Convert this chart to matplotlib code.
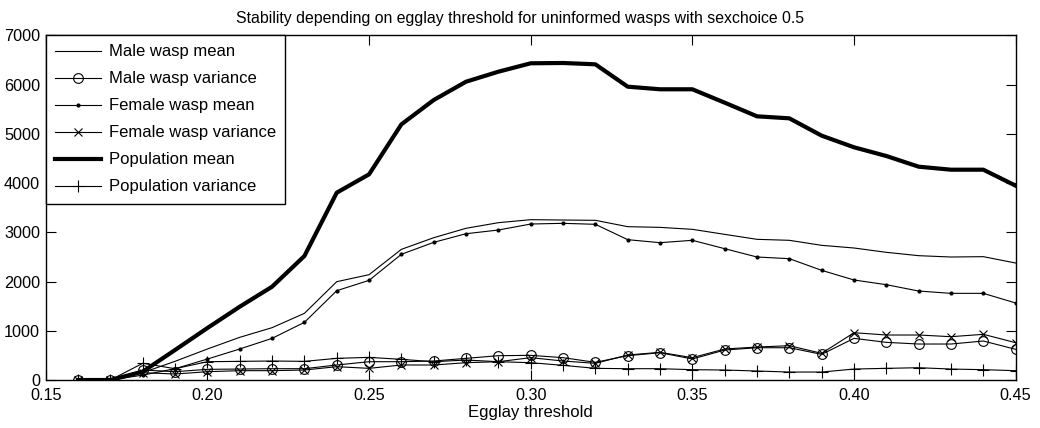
import matplotlib
matplotlib.use("Agg")
import matplotlib.pyplot as plt
import numpy as np

# egglay thresholds 0.16 .. 0.45
thresholds = [0.16, 0.17, 0.18, 0.19, 0.20, 0.21, 0.22, 0.23, 0.24, 0.25,
              0.26, 0.27, 0.28, 0.29, 0.30, 0.31, 0.32, 0.33, 0.34, 0.35,
              0.36, 0.37, 0.38, 0.39, 0.40, 0.41, 0.42, 0.43, 0.44, 0.45]

male_mean = [0, 0, 150, 380, 630, 867, 1063, 1354, 1997, 2139,
             2654, 2890, 3081, 3195, 3256, 3249, 3243, 3114, 3100, 3060,
             2958, 2857, 2837, 2735, 2681, 2593, 2525, 2498, 2505, 2376]
male_var = [0, 0, 203, 169, 217, 223, 230, 230, 305, 372,
            372, 386, 440, 494, 501, 454, 359, 494, 555, 427,
            609, 656, 656, 521, 846, 765, 731, 731, 792, 623]
female_mean = [0, 0, 100, 230, 426, 630, 846, 1171, 1814, 2024,
               2553, 2796, 2971, 3046, 3168, 3182, 3162, 2850, 2789, 2837,
               2667, 2498, 2464, 2227, 2031, 1936, 1807, 1760, 1760, 1564]
female_var = [0, 0, 149, 122, 169, 190, 190, 203, 271, 237,
              305, 305, 352, 372, 454, 386, 339, 508, 562, 454,
              630, 670, 697, 542, 961, 914, 914, 880, 928, 758]
pop_mean = [0, 0, 170, 610, 1056, 1489, 1895, 2518, 3804, 4177,
            5192, 5686, 6058, 6261, 6432, 6438, 6411, 5957, 5904, 5904,
            5632, 5355, 5314, 4962, 4726, 4549, 4332, 4271, 4271, 3946]
pop_var = [0, 0, 340, 230, 372, 379, 386, 379, 440, 460,
           420, 372, 406, 372, 352, 298, 237, 230, 230, 210,
           203, 183, 162, 162, 223, 237, 250, 223, 210, 190]

plt.rcParams['font.family'] = ['Liberation Sans', 'DejaVu Sans']

fig = plt.figure(figsize=(10.4, 4.28), dpi=100)
ax = fig.add_axes([0.044, 0.1121, 0.9326, 0.8054])

ax.plot(thresholds, male_mean, color='black', lw=0.8, label='Male wasp mean')
ax.plot(thresholds, male_var, color='black', lw=0.8, marker='o', ms=7,
        mfc='none', mew=0.8, label='Male wasp variance')
ax.plot(thresholds, female_mean, color='black', lw=0.8, marker='.', ms=4,
        label='Female wasp mean')
ax.plot(thresholds, female_var, color='black', lw=0.8, marker='x', ms=6,
        mew=0.8, label='Female wasp variance')
ax.plot(thresholds, pop_mean, color='black', lw=3, label='Population mean')
ax.plot(thresholds, pop_var, color='black', lw=0.8, marker='+', ms=9,
        mew=0.8, label='Population variance')

ax.set_xlim(0.15, 0.45)
ax.set_ylim(0, 7000)
ax.set_xticks([0.15, 0.20, 0.25, 0.30, 0.35, 0.40, 0.45])
ax.set_xticklabels(['0.15', '0.20', '0.25', '0.30', '0.35', '0.40', '0.45'])
ax.set_yticks(range(0, 7001, 1000))
ax.tick_params(direction='in', length=7, width=0.8, top=True, right=True,
               labelsize=11.7)
ax.tick_params(axis='x', pad=6)
ax.tick_params(axis='y', pad=4)
for s in ax.spines.values():
    s.set_linewidth(1)

ax.set_xlabel('Egglay threshold', fontsize=12, labelpad=1)
# title sits centred on the figure, not the axes
fig.text(0.5, 1 - 18 / 428, 'Stability depending on egglay threshold for uninformed wasps with sexchoice 0.5',
         fontsize=11.4, ha='center', va='center')

leg = ax.legend(loc='upper left', fontsize=12, borderaxespad=0, fancybox=False,
                edgecolor='black', framealpha=1, handlelength=2.75,
                handletextpad=0.5, labelspacing=0.72, borderpad=0.55)
leg.get_frame().set_linewidth(1)

fig.savefig('out.png', dpi=100)
